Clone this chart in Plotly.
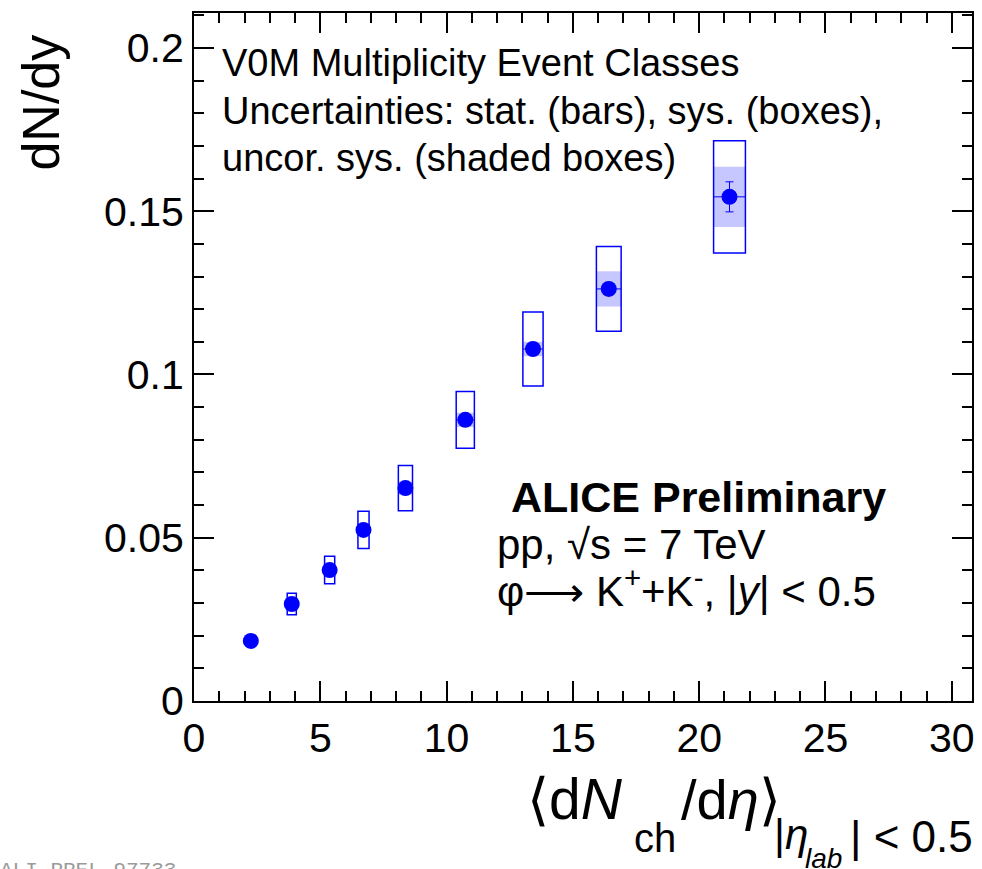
import plotly.graph_objects as go

# <dNch/deta> per V0M multiplicity class and phi-meson dN/dy
mult = [2.25, 3.87, 5.37, 6.71, 8.37, 10.74, 13.42, 16.42, 21.2]
dndy = [0.0184, 0.0297, 0.0401, 0.0524, 0.0652, 0.0861, 0.1078, 0.1262, 0.1544]
stat_err = [0.0004, 0.0005, 0.0006, 0.0008, 0.0010, 0.0012, 0.0015, 0.0020, 0.0046]
sys_err = [0.0018, 0.0033, 0.0042, 0.0057, 0.0069, 0.0087, 0.0113, 0.0130, 0.0172]
uncor_sys_err = [0.0008, 0.0012, 0.0015, 0.0018, 0.0020, 0.0022, 0.0022, 0.0054, 0.0092]
mult_sys_err = [0.13, 0.18, 0.20, 0.22, 0.28, 0.36, 0.40, 0.49, 0.63]

x_ticks = [0, 5, 10, 15, 20, 25, 30]
y_ticks = [0, 0.05, 0.1, 0.15, 0.2]
y_tick_text = ["0", "0.05", "0.1", "0.15", "0.2"]

W, H = 982, 869
L, R, T, B = 194, 7, 13, 168
FONT = "Liberation Sans, Arial, Helvetica, sans-serif"
BLUE = "rgb(0,0,255)"


def px(xpix):
    return (xpix - L) / (W - L - R)


def py(ypix):
    return (H - B - ypix) / (H - T - B)


fig = go.Figure()

shapes = []
for x, y, su, sc, ex in zip(mult, dndy, uncor_sys_err, sys_err, mult_sys_err):
    # uncorrelated systematics: shaded box
    shapes.append(dict(type="rect", xref="x", yref="y", x0=x - ex, x1=x + ex,
                       y0=y - su, y1=y + su, fillcolor="rgba(0,0,255,0.22)",
                       line=dict(width=0), layer="below"))
    # total systematics: open box
    shapes.append(dict(type="rect", xref="x", yref="y", x0=x - ex, x1=x + ex,
                       y0=y - sc, y1=y + sc, fillcolor="rgba(0,0,0,0)",
                       line=dict(color=BLUE, width=1.5), layer="above"))

fig.add_trace(go.Scatter(
    x=mult, y=dndy, mode="markers",
    marker=dict(color=BLUE, size=16, symbol="circle"),
    error_y=dict(type="data", array=stat_err, color=BLUE, thickness=1, width=4),
    error_x=dict(type="data", array=mult_sys_err, color=BLUE, thickness=1, width=0),
    showlegend=False, cliponaxis=False,
))

annotations = []


def text(s, xpix, ypix, size, xanchor="left", yanchor="middle", color="black",
         family=FONT, angle=0):
    annotations.append(dict(text=s, x=px(xpix), y=py(ypix), xref="paper", yref="paper",
                            xanchor=xanchor, yanchor=yanchor, showarrow=False,
                            textangle=angle,
                            font=dict(size=size, color=color, family=family)))


text("V0M Multiplicity Event Classes", 220, 63, 38)
text("Uncertainties: stat. (bars), sys. (boxes),", 220, 111, 38)
text("uncor. sys. (shaded boxes)", 220, 158, 38)

text("<b>ALICE Preliminary</b>", 510, 497, 43)
text("pp, √s = 7 TeV", 496, 544, 42)
text("φ⟶ K<sup>+</sup>+K<sup>-</sup>, |<i>y</i>| < 0.5", 496, 588, 42)

# y-axis title
text("dN/dy", 40, 103, 52, xanchor="center", angle=-90)

# x-axis title pieces
text("⟨d<i>N</i>", 526, 799, 57)
text("ch", 634, 838, 40)
text("/d<i>η</i>⟩", 681, 799, 56)
text("|<i>η</i>", 774, 834, 42)
text("<i>lab</i>", 805, 858, 28)
text("| < 0.5", 978, 836, 44, xanchor="right")

# preliminary figure id
text("ALI-PREL-97733", -3, 870, 21, color="#9a9a9a",
     family="Liberation Mono, Courier New, monospace")

axis_common = dict(
    showline=True, linecolor="black", linewidth=2, mirror="ticks",
    ticks="inside", ticklen=20, tickwidth=1.5, tickcolor="black",
    showgrid=False, zeroline=False,
    tickfont=dict(size=41, family=FONT, color="black"),
)

fig.update_layout(
    width=W, height=H,
    margin=dict(l=L, r=R, t=T, b=B),
    paper_bgcolor="white", plot_bgcolor="white",
    xaxis=dict(range=[0, 30.8], tickvals=x_ticks,
               minor=dict(dtick=1, ticks="inside", ticklen=10, tickwidth=1.5,
                          tickcolor="black", showgrid=False),
               **axis_common),
    yaxis=dict(range=[0, 0.2107], tickvals=y_ticks, ticktext=y_tick_text,
               minor=dict(dtick=0.01, ticks="inside", ticklen=10, tickwidth=1.5,
                          tickcolor="black", showgrid=False),
               **axis_common),
    shapes=shapes,
    annotations=annotations,
)

fig.write_html("out.html")
